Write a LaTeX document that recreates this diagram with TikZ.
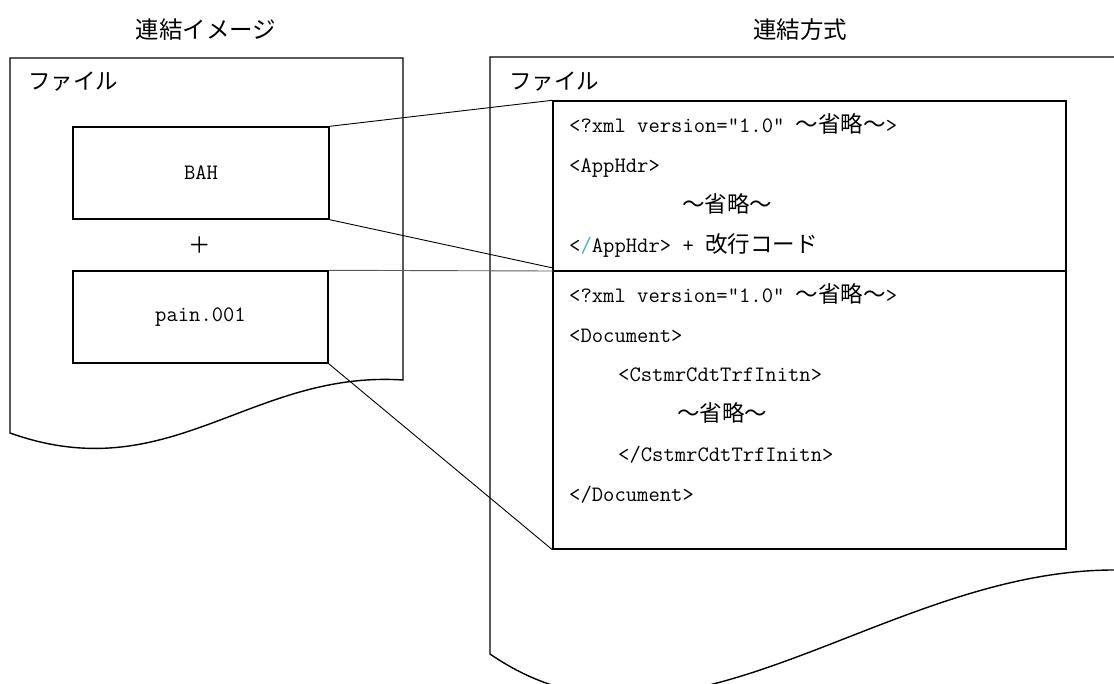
\documentclass[tikz,border=0pt]{standalone}
\usepackage{fontspec}
\newfontfamily\jp{Noto Sans CJK JP}
\definecolor{slashcol}{RGB}{70,175,195}
\definecolor{linkgrey}{RGB}{90,90,90}
\tikzset{
  docshape/.style={draw=black, line width=1.4pt, line join=miter},
  blockbox/.style={draw=black, line width=1.4pt, inner sep=0pt},
  linkline/.style={draw=black, line width=0.9pt},
  code/.style={anchor=base west, inner sep=0pt, font=\ttfamily\fontsize{22}{26}\selectfont},
  jlabel/.style={inner sep=0pt, font=\jp\fontsize{22.5}{26}\selectfont},
  jtitle/.style={inner sep=0pt, font=\jp\fontsize{23.5}{27}\selectfont},
}
\newcommand{\J}[1]{{\jp\fontsize{22.5}{26}\selectfont #1}}
\begin{document}
\begin{tikzpicture}[x=1pt,y=-1pt]
\useasboundingbox (0,0) rectangle (1114,684);
\clip (0,0) rectangle (1114,684);
% titles
\node[jtitle] (t1) at (206,30) {連結イメージ};
\node[jtitle] (t2) at (800,30) {連結方式};
% left document
\draw[docshape] (10,433) -- (10,58) -- (403,58) -- (403,380)
  .. controls (250,370) and (170,490) .. (10,433) -- cycle;
% right document
\draw[docshape] (1130,570) -- (1114,570) .. controls (880,570) and (680,785) .. (490,654)
  -- (490,57) -- (1160,57);
\node[jlabel, anchor=west] (f1) at (28,82) {ファイル};
\node[jlabel, anchor=west] (f2) at (509,82) {ファイル};
% left blocks
\node[blockbox, minimum width=256, minimum height=92, font=\ttfamily\fontsize{22}{26}\selectfont] (bah) at (201,173) {BAH};
\node[jlabel] (plus) at (200,245) {＋};
\node[blockbox, minimum width=255, minimum height=92, font=\ttfamily\fontsize{22}{26}\selectfont] (pain) at (200.5,317) {pain.001};
% right box
\node[blockbox, minimum width=513, minimum height=448] (rbox) at (809.5,325) {};
\coordinate (divL) at (553,271);
\coordinate (divR) at (1066,271);
\coordinate (bahEnd) at (553,268);
\draw[line width=1.4pt] (divL) -- (divR);
% connectors
\draw[linkline] (bah.north east) -- (rbox.north west);
\draw[linkline] (bah.south east) -- (bahEnd);
\draw[linkline, draw=linkgrey] (pain.north east) -- (divL);
\draw[linkline] (pain.south east) -- (rbox.south west);
% BAH text
\node[code] (a1) at (569,133) {<?xml version="1.0" \J{～省略～}>};
\node[code] (a2) at (569,173) {<AppHdr>};
\node[code] (a3) at (682,213) {\J{～省略～}};
\node[code] (a4) at (569,253) {<\textcolor{slashcol}{/}AppHdr> + \J{改行コード}};
% Document text
\node[code] (b1) at (569,303) {<?xml version="1.0" \J{～省略～}>};
\node[code] (b2) at (569,343) {<Document>};
\node[code] (b3) at (618,382) {<CstmrCdtTrfInitn>};
\node[code] (b4) at (677,422) {\J{～省略～}};
\node[code] (b5) at (618,461) {</CstmrCdtTrfInitn>};
\node[code] (b6) at (569,501) {</Document>};
\end{tikzpicture}
\end{document}
